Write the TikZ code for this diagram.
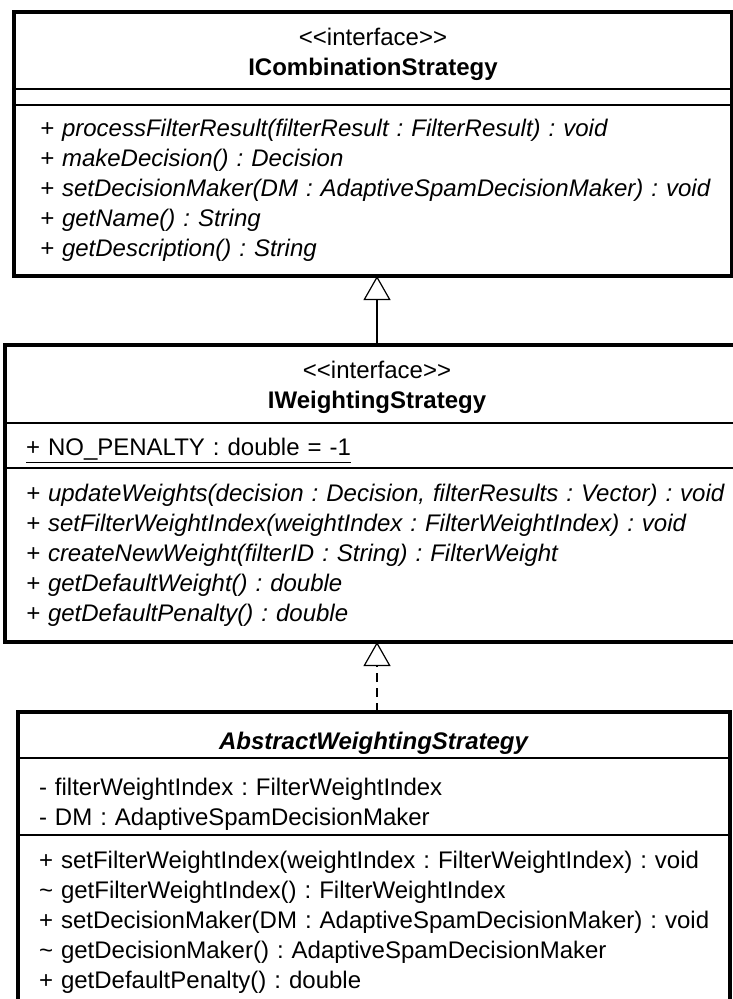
\documentclass[tikz,border=0pt]{standalone}
\usepackage{fontspec}
\newfontfamily\umlfont{Liberation Sans}
\usetikzlibrary{arrows.meta,positioning}

\begin{document}
\begin{tikzpicture}
%Class hierarchy of the weighting strategies
	[
	    x=1pt,y=-1pt,
	    %Styles
       node font=\umlfont\fontsize{24}{30}\selectfont\frenchspacing,
       inner ysep=0pt,
       compartment/.style={rectangle,draw=black,line width=1.3pt,outer sep=0pt,inner xsep=0pt},
       head_part/.style={compartment,align=center},
       text_part/.style={compartment,align=left,inner xsep=#1},
       class_frame/.style={draw=black,line width=3.2pt},
       generalization/.style={-{Triangle[open,length=24pt,width=27pt]},line width=1.2pt},
       realization/.style={generalization,dash pattern=on 9pt off 6pt}
    ]
    \useasboundingbox (0,0) rectangle (733,999);

    %ICombinationStrategy
    \node (icomb-head) [head_part, anchor=north west, minimum width=718pt, minimum height=77pt] at (14,12)
        {\rule{0pt}{25pt}<\kern0pt<interface>\kern0pt>\\ \textbf{ICombinationStrategy}};
    \node (icomb-attr) [compartment, minimum width=718pt, minimum height=16pt, below=0pt of icomb-head] {};
    \node (icomb-ops) [text_part=26pt, text width=666pt, minimum height=171pt, font=\itshape, below=0pt of icomb-attr]
        {\mbox{+ processFilterResult(filterResult : FilterResult) : void}\\
         + makeDecision() : Decision\\
         \mbox{+ setDecisionMaker(DM : AdaptiveSpamDecisionMaker) : void}\\
         + getName() : String\\
         + getDescription() : String};

    %IWeightingStrategy
    \node (iweight-head) [head_part, anchor=north west, minimum width=744pt, minimum height=78pt] at (5,345)
        {\rule{0pt}{25pt}<\kern0pt<interface>\kern0pt>\\ \textbf{IWeightingStrategy}};
    \node (iweight-attr) [text_part=21pt, text width=702pt, minimum height=45pt, below=0pt of iweight-head]
        {\rule{0pt}{27pt}\underline{+ NO\_PENALTY : double = -1}};
    \node (iweight-ops) [text_part=21pt, text width=702pt, minimum height=174pt, font=\itshape, below=0pt of iweight-attr]
        {\mbox{+ updateWeights(decision : Decision, filterResults : Vector) : void}\\
         \mbox{+ setFilterWeightIndex(weightIndex : FilterWeightIndex) : void}\\
         + createNewWeight(filterID : String) : FilterWeight\\
         + getDefaultWeight() : double\\
         + getDefaultPenalty() : double};

    %AbstractWeightingStrategy
    \node (abstract-head) [head_part, anchor=north west, minimum width=712pt, minimum height=46pt] at (18,712)
        {\rule{0pt}{33pt}\textbf{\textit{AbstractWeightingStrategy}}};
    \node (abstract-attr) [text_part=21pt, text width=670pt, minimum height=77pt, below=0pt of abstract-head]
        {\rule{0pt}{32pt}- filterWeightIndex : FilterWeightIndex\\
         - DM : AdaptiveSpamDecisionMaker};
    \node (abstract-ops) [text_part=21pt, text width=670pt, minimum height=174pt, below=0pt of abstract-attr]
        {\mbox{+ setFilterWeightIndex(weightIndex : FilterWeightIndex) : void}\\
         \textasciitilde{} getFilterWeightIndex() : FilterWeightIndex\\
         \mbox{+ setDecisionMaker(DM : AdaptiveSpamDecisionMaker) : void}\\
         \textasciitilde{} getDecisionMaker() : AdaptiveSpamDecisionMaker\\
         + getDefaultPenalty() : double};

    %Frames
    \draw[class_frame] (icomb-head.north west) rectangle (icomb-ops.south east);
    \draw[class_frame] (iweight-head.north west) rectangle (iweight-ops.south east);
    \draw[class_frame] (abstract-head.north west) rectangle (abstract-ops.south east);

    %Edges
    \draw[generalization] (iweight-head.north) -- (iweight-head.north |- icomb-ops.south);
    \draw[realization] (iweight-ops.south |- abstract-head.north) -- (iweight-ops.south);
\end{tikzpicture}
\end{document}
